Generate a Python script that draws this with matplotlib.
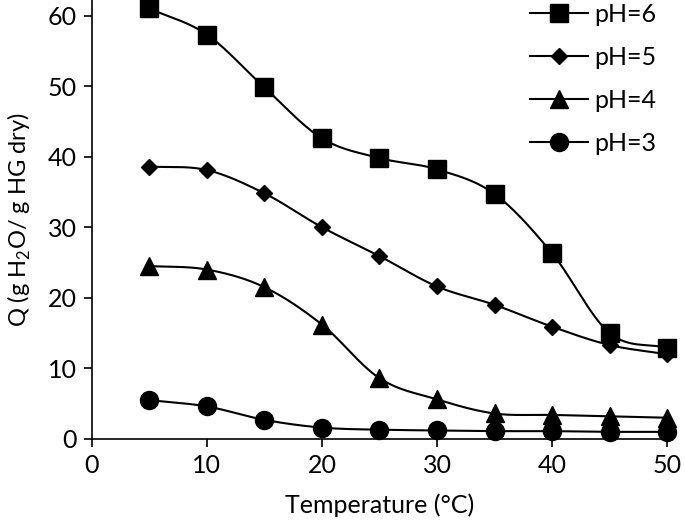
import numpy as np
import matplotlib
matplotlib.use("Agg")
import matplotlib.pyplot as plt

temperature = [5, 10, 15, 20, 25, 30, 35, 40, 45, 50]
ph6 = [61.0, 57.3, 49.8, 42.6, 39.8, 38.2, 34.7, 26.3, 15.0, 12.9]
ph5 = [38.6, 38.1, 34.8, 30.0, 25.9, 21.6, 19.0, 15.9, 13.3, 12.0]
ph4 = [24.5, 24.0, 21.5, 16.2, 8.6, 5.6, 3.6, 3.4, 3.2, 3.0]
ph3 = [5.5, 4.6, 2.7, 1.6, 1.3, 1.2, 1.1, 1.1, 1.0, 1.0]
series_labels = ["pH=6", "pH=5", "pH=4", "pH=3"]
markers = ["s", "D", "^", "o"]
msizes = [13, 8.5, 13, 13]

plt.rcParams['font.family'] = ['Lato', 'DejaVu Sans']
plt.rcParams['mathtext.fontset'] = 'custom'
plt.rcParams['mathtext.rm'] = 'Lato'
FS = 18


def smooth(x, y, n=30):
    # Catmull-Rom spline (like Excel smoothed lines)
    x = np.asarray(x, float); y = np.asarray(y, float)
    P = np.column_stack([x, y])
    P = np.vstack([2 * P[0] - P[1], P, 2 * P[-1] - P[-2]])
    out = []
    t = np.linspace(0, 1, n)
    for i in range(1, len(P) - 2):
        p0, p1, p2, p3 = P[i - 1], P[i], P[i + 1], P[i + 2]
        m1 = (p2 - p0) / 2
        m2 = (p3 - p1) / 2
        h00 = 2 * t**3 - 3 * t**2 + 1
        h10 = t**3 - 2 * t**2 + t
        h01 = -2 * t**3 + 3 * t**2
        h11 = t**3 - t**2
        seg = (np.outer(h00, p1) + np.outer(h10, m1)
               + np.outer(h01, p2) + np.outer(h11, m2))
        out.append(seg if i == 1 else seg[1:])
    S = np.vstack(out)
    return S[:, 0], S[:, 1]


fig = plt.figure(figsize=(6.85, 5.25), dpi=100)
ax = fig.add_axes([0.134, 0.164, 0.840, 0.836])

for ys, lab, mk, ms in zip([ph6, ph5, ph4, ph3], series_labels, markers, msizes):
    sx, sy = smooth(temperature, ys)
    ax.plot(sx, sy, color='black', lw=1.5, clip_on=False)
    ax.plot(temperature, ys, linestyle='none', marker=mk, ms=ms, color='black', clip_on=False)
    ax.plot([], [], color='black', lw=1.5, marker=mk, ms=ms, label=lab)

ax.set_xlim(0, 50)
ax.set_ylim(0, 62.2)
ax.set_xticks(range(0, 51, 10))
ax.set_yticks(range(0, 61, 10))
ax.spines['top'].set_visible(False)
ax.spines['right'].set_visible(False)
ax.spines['left'].set_linewidth(1.2)
ax.spines['bottom'].set_linewidth(1.2)
ax.tick_params(direction='out', length=6, width=1.2, labelsize=FS, pad=5)
ax.set_xlabel('Temperature (°C)', fontsize=FS, labelpad=12)
ax.set_ylabel('Q (g H$_\\mathregular{2}$O/ g HG dry)', fontsize=17, labelpad=10)

ax.legend(loc='upper right', bbox_to_anchor=(1.02, 1.045), frameon=False, fontsize=FS,
          handlelength=2.3, labelspacing=0.8, handletextpad=0.25)

fig.savefig('out.png', dpi=100)
